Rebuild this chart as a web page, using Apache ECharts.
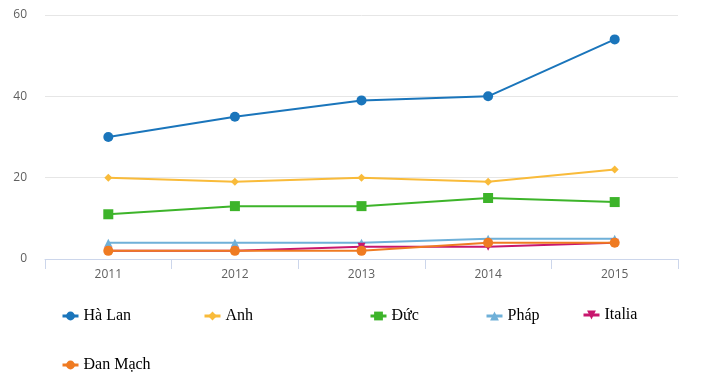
<!DOCTYPE html>
<html><head><meta charset="utf-8">
<script src="https://cdn.jsdelivr.net/npm/echarts@6/dist/echarts.min.js"></script>
<style>html,body{margin:0;padding:0;background:#fff}#c{width:702px;height:383px}</style>
</head><body><div id="c"></div>
<script>
const years = ['2011','2012','2013','2014','2015'];
const yTicks = [0, 20, 40, 60];
const haLan = [30, 35, 39, 40, 54];
const anh = [20, 19, 20, 19, 22];
const duc = [11, 13, 13, 15, 14];
const phap = [4, 4, 4, 5, 5];
const italia = [2, 2, 3, 3, 4];
const danMach = [2, 2, 2, 4, 4];

const names = ['Hà Lan','Anh','Đức','Pháp','Italia','Đan Mạch'];
const colors = ['#1a75bb','#f9bb3a','#3db42a','#6fb0d8','#c8176e','#ef7b22'];
const symbols = ['circle','diamond','rect','triangle','path://M0,0 L10,0 L5,9 Z','circle'];
const sizes = [10, 8, 10, 8, 8, 10];
const datas = [haLan, anh, duc, phap, italia, danMach];
const legendPos = [[56,303],[198,303],[364,303],[480,303],[577,302],[56,352]];

const chart = echarts.init(document.getElementById('c'));
chart.setOption({
  animation: false,
  grid: {left: 45, right: 24, top: 15, bottom: 124},
  legend: names.map((n, i) => ({
    data: [n], left: legendPos[i][0], top: legendPos[i][1],
    itemWidth: 16, itemHeight: 11, itemGap: 7,
    lineStyle: {width: 3},
    textStyle: {fontFamily: 'Liberation Serif', fontSize: 16, color: '#000'}
  })),
  xAxis: {
    type: 'category', data: years, boundaryGap: true,
    axisLine: {lineStyle: {color: '#ccd6eb'}},
    axisTick: {show: true, length: 10, lineStyle: {color: '#ccd6eb'}},
    axisLabel: {color: '#606060', fontSize: 12, margin: 10, fontFamily: 'Open Sans'}
  },
  yAxis: {
    type: 'value', min: 0, max: 60, interval: 20,
    axisLine: {show: false}, axisTick: {show: false},
    splitLine: {lineStyle: {color: '#e6e6e6'}},
    axisLabel: {color: '#606060', fontSize: 12, margin: 18, fontFamily: 'Open Sans'}
  },
  series: names.map((n, i) => ({
    name: n, type: 'line', data: datas[i],
    symbol: symbols[i], symbolSize: sizes[i], showAllSymbol: true,
    lineStyle: {width: 2, color: colors[i]},
    itemStyle: {color: colors[i]},
    z: 2 + i
  }))
});
</script></body></html>
